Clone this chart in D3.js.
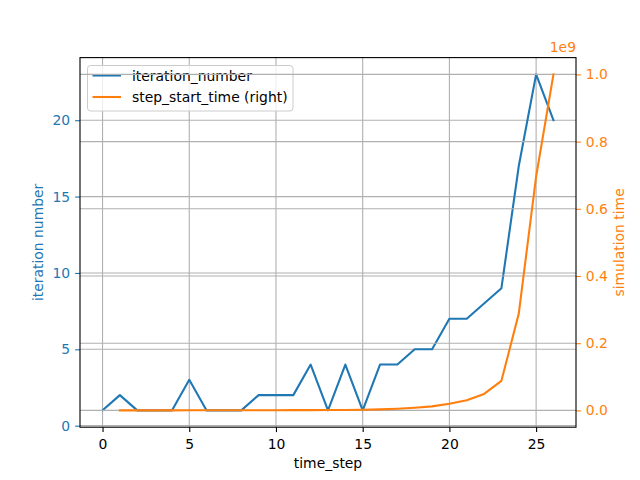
<!DOCTYPE html>
<html>
<head>
<meta charset="utf-8">
<script src="https://cdn.jsdelivr.net/npm/d3@7"></script>
<style>
  body { margin: 0; background: #fff; }
  svg { font-family: "DejaVu Sans", sans-serif; }
</style>
</head>
<body>
<svg id="chart"></svg>
<script>
// time steps and their iteration counts
const timeSteps = d3.range(0, 27);
const iterationNumber = [1, 2, 1, 1, 1, 3, 1, 1, 1, 2, 2, 2, 4, 1, 4, 1, 4, 4, 5, 5, 7, 7, 8, 9, 17, 23, 20];

// step start time starts at step 1 (seconds, right axis)
const startSteps = d3.range(1, 27);
const stepStartTime = [0, 0.00005e9, 0.0001e9, 0.00015e9, 0.0002e9, 0.0003e9, 0.0004e9, 0.0005e9, 0.0006e9,
  0.0007e9, 0.0008e9, 0.0009e9, 0.001e9, 0.0013e9, 0.0018e9, 0.003e9, 0.005e9, 0.008e9, 0.012e9,
  0.02e9, 0.03e9, 0.049e9, 0.088e9, 0.288e9, 0.696e9, 1.0e9];

const xTicks = [0, 5, 10, 15, 20, 25];
const leftTicks = [0, 5, 10, 15, 20];
const rightTicks = [0, 0.2e9, 0.4e9, 0.6e9, 0.8e9, 1.0e9];

const BLUE = "#1f77b4", ORANGE = "#ff7f0e", GRID = "#b0b0b0";
const width = 640, height = 480;
const margin = { top: 57.6, right: 64, bottom: 52.8, left: 80 };
const fs = 13.9;

const svg = d3.select("#chart").attr("width", width).attr("height", height);

const x = d3.scaleLinear().domain([-1.3, 27.3]).range([margin.left, width - margin.right]);
const yL = d3.scaleLinear().domain([-0.1, 24.1]).range([height - margin.bottom, margin.top]);
const yR = d3.scaleLinear().domain([-0.05e9, 1.05e9]).range([height - margin.bottom, margin.top]);

const plotTop = margin.top, plotBottom = height - margin.bottom;
const plotLeft = margin.left, plotRight = width - margin.right;

// ---- left axes: grid, line, legend
const gridL = svg.append("g");
gridL.selectAll(".vx").data(xTicks).enter().append("line")
  .attr("x1", d => x(d)).attr("x2", d => x(d)).attr("y1", plotTop).attr("y2", plotBottom)
  .attr("stroke", GRID).attr("stroke-width", 1.1);
gridL.selectAll(".hy").data(leftTicks).enter().append("line")
  .attr("x1", plotLeft).attr("x2", plotRight).attr("y1", d => yL(d)).attr("y2", d => yL(d))
  .attr("stroke", GRID).attr("stroke-width", 1.1);

const lineL = d3.line().x((d, i) => x(timeSteps[i])).y(d => yL(d));
svg.append("path").datum(iterationNumber)
  .attr("d", lineL).attr("fill", "none").attr("stroke", BLUE)
  .attr("stroke-width", 2.08).attr("stroke-linejoin", "round").attr("stroke-linecap", "square");

// legend
const legend = svg.append("g").attr("transform", "translate(87.5,65.5)");
legend.append("rect").attr("width", 205.5).attr("height", 45.5).attr("rx", 3)
  .attr("fill", "#fff").attr("fill-opacity", 0.8).attr("stroke", "#cccccc").attr("stroke-width", 1);
[["iteration_number", BLUE], ["step_start_time (right)", ORANGE]].forEach(([name, c], i) => {
  const yy = 10 + i * 21.5;
  legend.append("line").attr("x1", 5).attr("x2", 33.5).attr("y1", yy).attr("y2", yy)
    .attr("stroke", c).attr("stroke-width", 2.08);
  legend.append("text").attr("x", 44.5).attr("y", yy + 5).attr("font-size", fs)
    .attr("fill", "#000").text(name);
});

// ---- right axes: grid, line drawn on top
const gridR = svg.append("g");
gridR.selectAll(".hy").data(rightTicks).enter().append("line")
  .attr("x1", plotLeft).attr("x2", plotRight).attr("y1", d => yR(d)).attr("y2", d => yR(d))
  .attr("stroke", GRID).attr("stroke-width", 1.1);

const lineR = d3.line().x((d, i) => x(startSteps[i])).y(d => yR(d));
svg.append("path").datum(stepStartTime)
  .attr("d", lineR).attr("fill", "none").attr("stroke", ORANGE)
  .attr("stroke-width", 2.08).attr("stroke-linejoin", "round").attr("stroke-linecap", "square");

// ---- axes
function styleAxis(g, color) {
  g.select(".domain").remove();
  g.selectAll(".tick line").attr("stroke", color).attr("stroke-width", 1.1);
  g.selectAll(".tick text").attr("fill", color).attr("font-size", fs)
    .attr("font-family", "DejaVu Sans, sans-serif");
}

const xAxis = svg.append("g").attr("transform", `translate(0,${plotBottom})`)
  .call(d3.axisBottom(x).tickValues(xTicks).tickSize(4.9).tickPadding(4.9).tickFormat(d3.format("d")));
styleAxis(xAxis, "#000");
xAxis.selectAll(".tick text").attr("dy", "0.85em");

const yAxisL = svg.append("g").attr("transform", `translate(${plotLeft},0)`)
  .call(d3.axisLeft(yL).tickValues(leftTicks).tickSize(4.9).tickPadding(4.9).tickFormat(d3.format("d")));
styleAxis(yAxisL, BLUE);

const yAxisR = svg.append("g").attr("transform", `translate(${plotRight},0)`)
  .call(d3.axisRight(yR).tickValues(rightTicks).tickSize(4.9).tickPadding(4.9).tickFormat(d => (d / 1e9).toFixed(1)));
styleAxis(yAxisR, ORANGE);

// spines
svg.append("rect").attr("x", plotLeft).attr("y", plotTop).attr("width", plotRight - plotLeft).attr("height", plotBottom - plotTop)
  .attr("fill", "none").attr("stroke", "#000").attr("stroke-width", 1.1);

// labels
svg.append("text").attr("x", (plotLeft + plotRight) / 2).attr("y", 468).attr("text-anchor", "middle")
  .attr("font-size", fs).text("time_step");
svg.append("text").attr("transform", `translate(43,${(plotTop + plotBottom) / 2}) rotate(-90)`)
  .attr("text-anchor", "middle").attr("font-size", fs).attr("fill", BLUE).text("iteration number");
svg.append("text").attr("transform", `translate(624,${(plotTop + plotBottom) / 2}) rotate(-90)`)
  .attr("text-anchor", "middle").attr("font-size", fs).attr("fill", ORANGE).text("simulation time");
svg.append("text").attr("x", plotRight).attr("y", 52).attr("text-anchor", "end")
  .attr("font-size", fs).attr("fill", ORANGE).text("1e9");
</script>
</body>
</html>
